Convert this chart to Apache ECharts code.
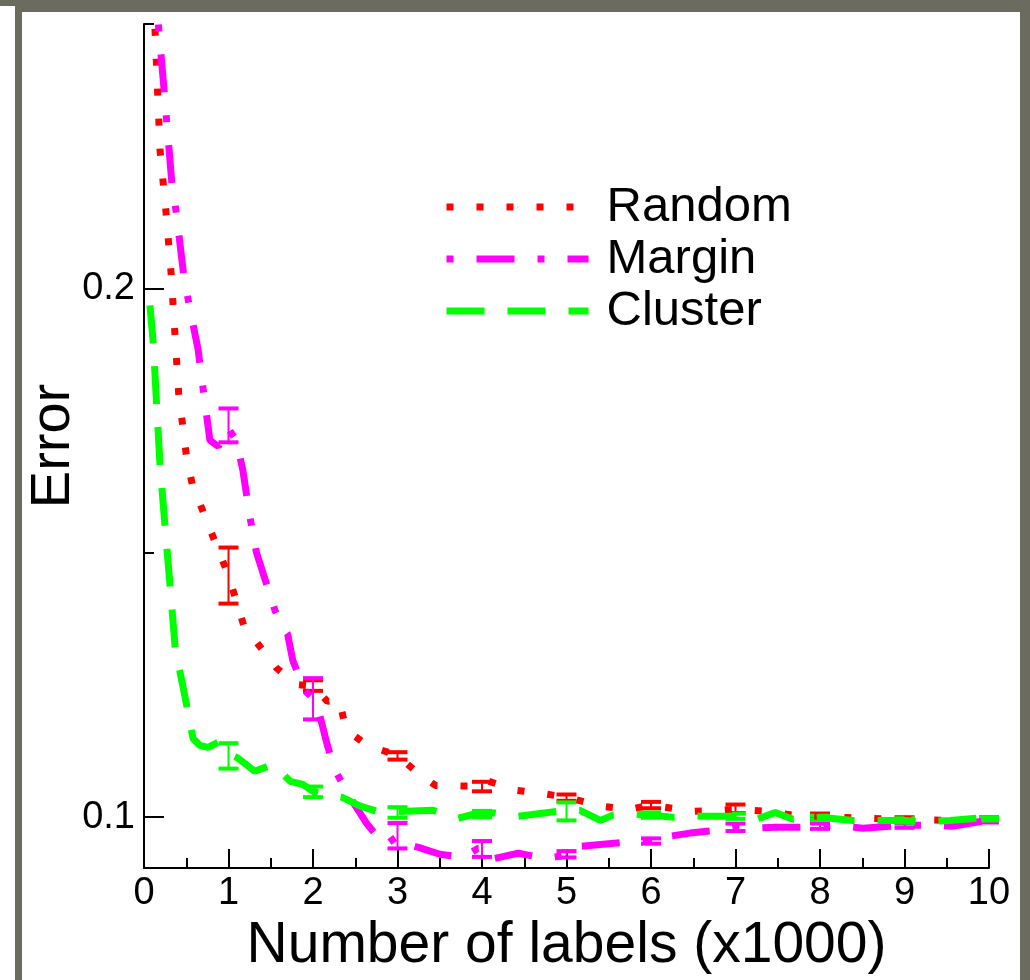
<!DOCTYPE html>
<html lang="en" style="height: 100%">
<head>
    <meta charset="UTF-8">
    <title>Error vs number of labels</title>
    <script src="https://cdn.jsdelivr.net/npm/echarts@6/dist/echarts.min.js"></script>
</head>
<body style="height: 100%; margin: 0">
<div id="container" style="width: 1030px; height: 980px"></div>
<script type="text/javascript">

    // curves: [labels (x1000), error]
    var randomPts = [[0.13,0.2491],[0.19,0.2261],[0.26,0.2145],[0.32,0.203],[0.41,0.1802],[0.5,0.1686],[0.57,0.163],
        [0.83,0.1525],[1.0,0.1457],[1.18,0.1363],[1.37,0.1323],[1.57,0.1282],[1.8,0.1251],[2.0,0.1248],[2.17,0.1219],
        [2.31,0.1223],[2.39,0.1166],[2.64,0.1136],[3.0,0.1117],[3.2,0.1089],[3.45,0.106],[3.75,0.1059],[4.0,0.1059],
        [4.08,0.1068],[4.4,0.1051],[4.7,0.1045],[5.0,0.1038],[5.4,0.1021],[5.75,0.1015],[6.0,0.1023],[6.5,0.1011],
        [6.8,0.1013],[7.0,0.1015],[7.4,0.1011],[7.75,0.1002],[8.0,0.1002],[8.5,0.0998],[9.0,0.0996],[9.5,0.0994],[10,0.0995]];
    var marginPts = [[0.17,0.2499],[0.24,0.2371],[0.33,0.2199],[0.38,0.2146],[0.47,0.2025],[0.55,0.1955],[0.64,0.1885],
        [0.68,0.1834],[0.78,0.1713],[0.88,0.1701],[0.99,0.1737],[1.09,0.1713],[1.17,0.1656],[1.25,0.1571],[1.33,0.1501],
        [1.42,0.1456],[1.55,0.1391],[1.65,0.1357],[1.7,0.1346],[1.76,0.1297],[1.9,0.124],[2.0,0.1225],[2.08,0.1193],
        [2.17,0.1136],[2.26,0.1089],[2.46,0.1032],[2.64,0.0987],[2.85,0.0947],[3.0,0.0964],[3.15,0.0947],[3.25,0.0943],
        [3.5,0.093],[3.78,0.0924],[3.95,0.0941],[4.1,0.0941],[4.15,0.0922],[4.43,0.0932],[4.75,0.0922],[5.0,0.0928],
        [5.16,0.0945],[5.43,0.0949],[5.72,0.0953],[6.0,0.0955],[6.14,0.0962],[6.46,0.097],[6.76,0.0975],[7.0,0.0981],
        [7.17,0.0979],[7.47,0.0981],[7.79,0.0981],[8.0,0.0983],[8.2,0.0985],[8.51,0.0979],[8.83,0.0983],[9.0,0.0985],
        [9.27,0.0985],[9.57,0.0983],[9.86,0.0991],[10,0.0994]];
    var clusterPts = [[0.07,0.1968],[0.11,0.1896],[0.15,0.1779],[0.19,0.1665],[0.25,0.1548],[0.31,0.1435],[0.37,0.1319],
        [0.47,0.124],[0.54,0.1183],[0.58,0.1149],[0.66,0.1136],[0.76,0.1132],[0.88,0.1142],[0.99,0.1121],[1.11,0.1112],
        [1.31,0.1087],[1.53,0.11],[1.73,0.1068],[1.88,0.1062],[2.0,0.1049],[2.08,0.1045],[2.34,0.1038],[2.56,0.1021],
        [2.76,0.1011],[3.0,0.1011],[3.42,0.1013],[3.72,0.0998],[3.98,0.1009],[4.15,0.1008],[4.43,0.1002],[5.0,0.1013],
        [5.16,0.1013],[5.4,0.0994],[5.55,0.1004],[5.81,0.1006],[6.0,0.1004],[6.26,0.1],[6.54,0.1002],[7.0,0.1002],
        [7.25,0.0996],[7.47,0.1009],[7.68,0.0996],[8.0,0.1],[8.39,0.0994],[8.67,0.0994],[9.0,0.0994],[9.22,0.0991],
        [9.54,0.0994],[9.86,0.0998],[10,0.0998]];

    // error bars at 1..10 thousand labels: mean and half width
    var errX = [1, 2, 3, 4, 5, 6, 7, 8, 9, 10];
    var randomMean = [0.1457, 0.1249, 0.1116, 0.1058, 0.1037, 0.1023, 0.1016, 0.1003, 0.0997, 0.0996];
    var randomHalf = [0.0053, 0.0010, 0.0007, 0.0009, 0.0006, 0.0006, 0.0008, 0.0004, 0.0003, 0.0004];
    var marginMean = [0.1741, 0.1224, 0.0965, 0.0940, 0.0930, 0.0955, 0.0981, 0.0983, 0.0984, 0.0993];
    var marginHalf = [0.0032, 0.0039, 0.0024, 0.0015, 0.0006, 0.0005, 0.0007, 0.0005, 0.0004, 0.0003];
    var clusterMean = [0.1116, 0.1048, 0.1009, 0.1006, 0.1011, 0.1004, 0.1002, 0.0999, 0.0994, 0.0997];
    var clusterHalf = [0.0024, 0.0010, 0.0010, 0.0006, 0.0017, 0.0005, 0.0005, 0.0004, 0.0004, 0.0003];

    var xTicks = [0, 10, 1];
    var yMajor = [0.1, 0.2];
    var yMinor = [0.15, 0.25];

    var FONT = "'Liberation Sans', Arial, sans-serif";
    var FRAME = '#6b6b5f';

    function errData(mean, half) {
        var out = [];
        for (var i = 0; i < errX.length; i++) {
            out.push([errX[i], mean[i] - half[i], mean[i] + half[i]]);
        }
        return out;
    }

    function errRender(color) {
        return function (params, api) {
            var x = api.value(0);
            var lo = api.coord([x, api.value(1)]);
            var hi = api.coord([x, api.value(2)]);
            return {
                type: 'group',
                children: [
                    {type: 'line', shape: {x1: lo[0], y1: lo[1], x2: hi[0], y2: hi[1]},
                        style: {stroke: color, lineWidth: 2}},
                    {type: 'rect', shape: {x: hi[0] - 10, y: hi[1] - 2, width: 20, height: 4}, style: {fill: color}},
                    {type: 'rect', shape: {x: lo[0] - 10, y: lo[1] - 2, width: 20, height: 4}, style: {fill: color}}
                ]
            };
        };
    }

    function lineSeries(name, data, color, dash) {
        return {
            name: name, type: 'line', data: data, symbol: 'none', smooth: false,
            lineStyle: {color: color, width: 7, type: dash, cap: 'butt'},
            itemStyle: {color: color}
        };
    }

    function errSeries(name, mean, half, color) {
        return {
            name: name, type: 'custom', data: errData(mean, half),
            encode: {x: 0, y: [1, 2]}, renderItem: errRender(color), z: 3
        };
    }

    window.onload = function () {
        var myChart = echarts.init(document.getElementById('container'));
        var axisLine = {show: true, lineStyle: {color: '#000', width: 2}};
        var option = {
            animation: false,
            backgroundColor: '#fff',
            grid: {left: 144, right: 41, top: 24, bottom: 112},
            graphic: [
                {type: 'rect', shape: {x: 15, y: 0, width: 1015, height: 12}, style: {fill: FRAME}},
                {type: 'rect', shape: {x: 0, y: 0, width: 15, height: 6}, style: {fill: FRAME}},
                {type: 'rect', shape: {x: 15, y: 0, width: 7, height: 980}, style: {fill: FRAME}},
                {type: 'rect', shape: {x: 1020, y: 0, width: 10, height: 980}, style: {fill: FRAME}}
            ],
            legend: {
                orient: 'vertical', left: 443, top: 181, padding: 0,
                itemWidth: 142, itemHeight: 1, itemGap: 0,
                selectedMode: false,
                data: ['Random', 'Margin', 'Cluster'],
                lineStyle: {width: 7},
                textStyle: {fontSize: 49, fontFamily: FONT, color: '#000', lineHeight: 52, padding: [0, 0, 0, 13]}
            },
            xAxis: {
                type: 'value', min: xTicks[0], max: xTicks[1], interval: xTicks[2],
                name: 'Number of labels (x1000)', nameLocation: 'middle', nameGap: 50, nameMoveOverlap: false,
                nameTextStyle: {fontSize: 57, fontFamily: FONT, color: '#000'},
                axisLine: axisLine,
                axisTick: {inside: true, length: 19, lineStyle: {color: '#000', width: 2}},
                minorTick: {show: true, splitNumber: 2, length: 10, lineStyle: {color: '#000', width: 2}},
                axisLabel: {fontSize: 38, fontFamily: FONT, color: '#000', margin: 7},
                splitLine: {show: false}
            },
            yAxis: [{
                type: 'value', min: 0.0904, max: 0.25,
                name: 'Error', nameLocation: 'middle', nameGap: 62, nameRotate: 90, nameMoveOverlap: false,
                nameTextStyle: {fontSize: 56, fontFamily: FONT, color: '#000'},
                axisLine: axisLine,
                axisTick: {inside: true, length: 20, customValues: yMajor, lineStyle: {color: '#000', width: 2}},
                axisLabel: {fontSize: 38, fontFamily: FONT, color: '#000', margin: 9, customValues: yMajor,
                    formatter: function (v) { return v.toFixed(1); }},
                splitLine: {show: false}
            }, {
                type: 'value', min: 0.0904, max: 0.25, position: 'left',
                axisLine: {show: false},
                axisTick: {show: true, inside: true, length: 10, customValues: yMinor, lineStyle: {color: '#000', width: 2}},
                axisLabel: {show: false},
                splitLine: {show: false}
            }],
            series: [
                lineSeries('Random', randomPts, '#ff0000', [7, 23]),
                lineSeries('Margin', marginPts, '#ff00ff', [7, 23, 38, 23]),
                lineSeries('Cluster', clusterPts, '#00ff00', [38, 23]),
                errSeries('RandomErr', randomMean, randomHalf, '#ff0000'),
                errSeries('MarginErr', marginMean, marginHalf, '#ff00ff'),
                errSeries('ClusterErr', clusterMean, clusterHalf, '#00ff00')
            ]
        };
        myChart.setOption(option);
    };
</script>
</body>
</html>
